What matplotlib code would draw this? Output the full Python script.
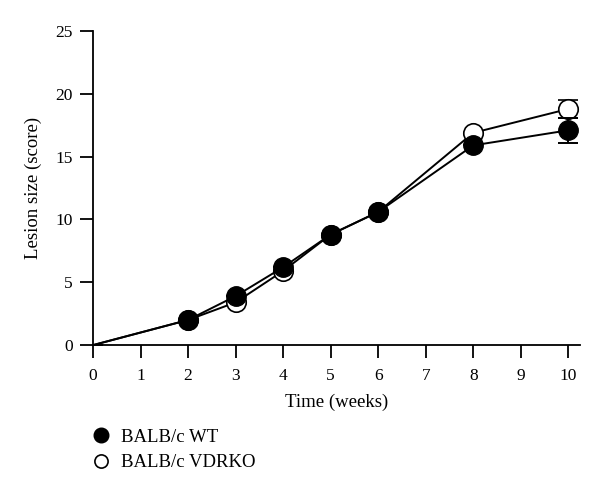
import numpy as np
import matplotlib.pyplot as plt
from matplotlib.lines import Line2D

plt.rcParams['font.family'] = ['Liberation Serif', 'DejaVu Serif']

weeks = [0, 2, 3, 4, 5, 6, 8, 10]
wt = [0, 2.0, 3.9, 6.2, 8.8, 10.6, 15.9, 17.1]
wt_err = [0, 0, 0, 0, 0, 0, 0, 1.0]
ko = [0, 2.0, 3.4, 5.9, 8.8, 10.6, 16.9, 18.8]
ko_err = [0, 0, 0, 0, 0, 0, 0, 0.7]

fig = plt.figure(figsize=(6, 4.93), dpi=100)
ax = fig.add_axes((0.155, 0.300, 0.812, 0.637))

ax.errorbar(weeks, ko, yerr=ko_err, color='black', lw=1.4, capsize=7, capthick=1.4,
            marker='o', ms=14, mfc='white', mec='black', mew=1.2, markevery=list(range(1, 8)),
            label='BALB/c VDRKO', zorder=2)
ax.errorbar(weeks, wt, yerr=wt_err, color='black', lw=1.4, capsize=7, capthick=1.4,
            marker='o', ms=14, mfc='black', mec='black', markevery=list(range(1, 8)),
            label='BALB/c WT', zorder=3)

ax.set_xlim(0, 10.25)
ax.set_ylim(0, 25)
ax.set_xticks(range(0, 11))
ax.set_yticks(range(0, 26, 5))
ax.spines['top'].set_visible(False)
ax.spines['right'].set_visible(False)
ax.spines['left'].set_linewidth(1.3)
ax.spines['bottom'].set_linewidth(1.3)
ax.tick_params(direction='out', length=9.4, width=1.3, labelsize=12.5)
ax.tick_params(axis='x', pad=7)
ax.tick_params(axis='y', pad=5)
ax.set_xlabel('Time (weeks)', fontsize=13.5, labelpad=7)
ax.set_ylabel('Lesion size (score)', fontsize=13.5, labelpad=10)

# legend below the axes
handles = [Line2D([], [], ls='none', marker='o', ms=10.5, mfc='black', mec='black'),
           Line2D([], [], ls='none', marker='o', ms=9.5, mfc='white', mec='black', mew=1.2)]
fig.legend(handles, ['BALB/c WT', 'BALB/c VDRKO'], loc='upper left',
           bbox_to_anchor=(0.14, 0.146), frameon=False, fontsize=13.5,
           handlelength=1.0, handletextpad=0.55, labelspacing=0.45, borderaxespad=0)

fig.savefig('out.png', dpi=100)
